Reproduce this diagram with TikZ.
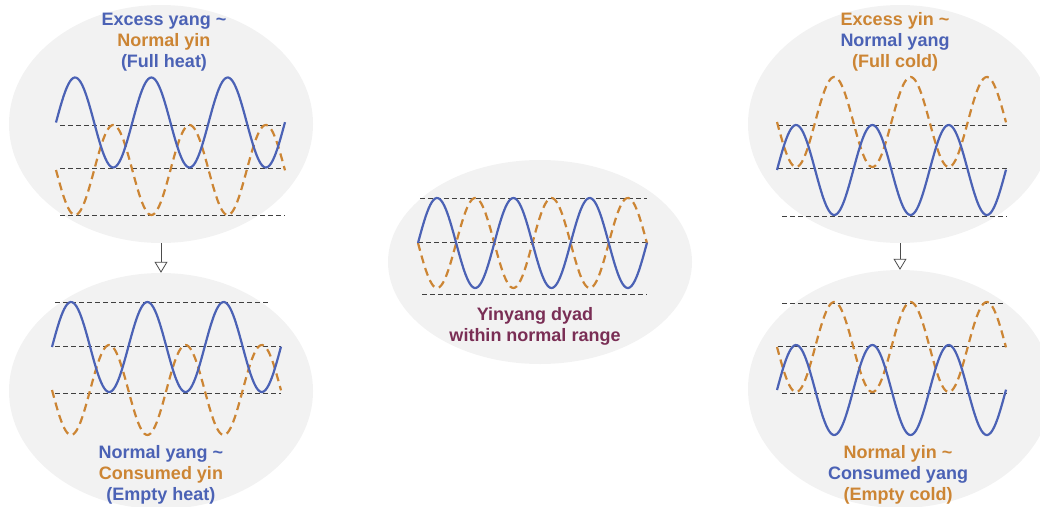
\documentclass[tikz,border=0pt]{standalone}
\usepackage{fontspec}
\setmainfont{Liberation Sans}
\usetikzlibrary{shapes.geometric,arrows.meta}

\definecolor{yangblue}{HTML}{4B62B5}
\definecolor{yinorange}{HTML}{CC8534}
\definecolor{dyadred}{HTML}{7A2E55}
\definecolor{ellfill}{HTML}{F2F2F2}

\begin{document}
\begin{tikzpicture}[
    x=1pt, y=-1pt,
    >={Triangle[open,width=13pt,length=11pt]},
    bubble/.style={ellipse, fill=ellfill, inner sep=0pt, minimum width=304pt},
    caption/.style={font=\bfseries\fontsize{18}{21}\selectfont, align=center, inner sep=0pt},
    yangwave/.style={yangblue, line width=2.2pt},
    yinwave/.style={yinorange, line width=2.2pt, dash pattern=on 8pt off 5pt},
    level/.style={black!75, line width=1pt, dash pattern=on 5pt off 3pt}
]
\useasboundingbox (0,0) rectangle (1040,506);
\clip (0,0) rectangle (1040,506);

% ========== 背景椭圆 ==========
\node[bubble, minimum height=238pt] (fullheat)  at (161,124) {};
\node[bubble, minimum height=236pt] (emptyheat) at (161,391) {};
\node[bubble, minimum height=204pt] (dyad)      at (540,262) {};
\node[bubble, minimum height=238pt] (fullcold)  at (900,124) {};
\node[bubble, minimum height=238pt] (emptycold) at (900,389) {};

% 箭头
\draw[->, black!70, line width=0.8pt] (fullheat.south) -- (emptyheat.north);
\draw[->, black!70, line width=0.8pt] (fullcold.south) -- (emptycold.north);

% ========== 虚线水平线 ==========
\foreach \xl/\xr/\yl in {60/285/125, 60/285/168, 60/285/215,
                         55/269/302, 55/281/346, 55/281/393,
                         420/647/198, 418/647/242, 422/647/294,
                         778/1007/125, 778/1007/168, 782/1007/216,
                         782/1003/303, 778/1007/346, 782/1007/393} {
    \draw[level] (\xl,\yl) -- (\xr,\yl);
}

% ========== 阴阳波形 ==========
\foreach \xa/\yb/\yo in {56/122.5/170, 52/347/390, 418/243/243,
                         777/170/122, 777/390/347} {
    \draw[yinwave] plot[domain=0:229, samples=150, smooth]
        ({\xa+\x},{\yo+45*sin(4.718*\x)}); % 阴
    \draw[yangwave] plot[domain=0:229, samples=150, smooth]
        ({\xa+\x},{\yb-45*sin(4.718*\x)}); % 阳
}

% ========== 文字 ==========
\node[caption] (fullheatText) at (164,42)
    {\textcolor{yangblue}{Excess yang \textasciitilde}\\
     \textcolor{yinorange}{Normal yin}\\
     \textcolor{yangblue}{(Full heat)}};
\node[caption] (emptyheatText) at (161,475)
    {\textcolor{yangblue}{Normal yang \textasciitilde}\\
     \textcolor{yinorange}{Consumed yin}\\
     \textcolor{yangblue}{(Empty heat)}};
\node[caption, text=dyadred] (dyadText) at (535,326)
    {Yinyang dyad\\within normal range};
\node[caption] (fullcoldText) at (895,42)
    {\textcolor{yinorange}{Excess yin \textasciitilde}\\
     \textcolor{yangblue}{Normal yang}\\
     \textcolor{yinorange}{(Full cold)}};
\node[caption] (emptycoldText) at (898,475)
    {\textcolor{yinorange}{Normal yin \textasciitilde}\\
     \textcolor{yangblue}{Consumed yang}\\
     \textcolor{yinorange}{(Empty cold)}};

\end{tikzpicture}
\end{document}
